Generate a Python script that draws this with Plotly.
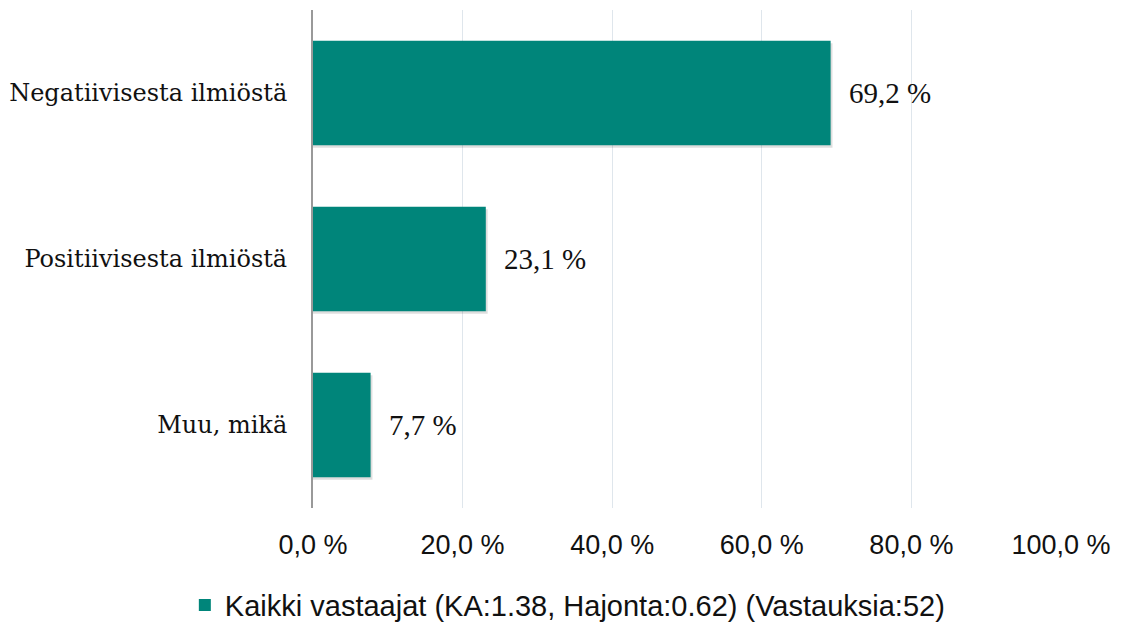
import plotly.graph_objects as go

categories = ["Negatiivisesta ilmiöstä", "Positiivisesta ilmiöstä", "Muu, mikä"]
values = [69.2, 23.1, 7.7]
series_name = "Kaikki vastaajat (KA:1.38, Hajonta:0.62) (Vastauksia:52)"
tick_vals = [0, 20, 40, 60, 80, 100]
tick_text = ["0,0 %", "20,0 %", "40,0 %", "60,0 %", "80,0 %", "100,0 %"]

teal = "#00857a"
serif = "DejaVu Serif"
sans = "Liberation Sans"

fig = go.Figure()

# soft drop shadow under the bars
fig.add_trace(go.Bar(
    x=[v + 0.25 for v in values], y=categories, orientation="h",
    width=0.63, offset=-0.33,
    marker=dict(color="rgba(0,0,0,0.13)", line=dict(width=0)),
    showlegend=False, hoverinfo="skip",
))

fig.add_trace(go.Bar(
    x=values, y=categories, orientation="h",
    width=0.63, offset=-0.315,
    name=series_name,
    marker=dict(color=teal, line=dict(width=0)),
))

for c, v in zip(categories, values):
    fig.add_annotation(
        x=v, y=c, text=f"{v:.1f}".replace(".", ",") + " %",
        showarrow=False, xanchor="left", xshift=16,
        font=dict(family="Liberation Serif", size=29, color="#111"),
    )

# page body has an 8px margin, so the figure is sized 8px smaller
fig.update_layout(
    width=1113, height=615,
    margin=dict(l=305, r=60, t=2, b=115),
    plot_bgcolor="white", paper_bgcolor="white",
    barmode="overlay",
    showlegend=True,
    legend=dict(
        orientation="h", xref="container", yref="container",
        x=0.503, xanchor="center", y=0.029, yanchor="middle",
        font=dict(family=sans, size=29, color="#111"),
        itemwidth=30,
    ),
    xaxis=dict(
        range=[0, 100], tickvals=tick_vals, ticktext=tick_text,
        showgrid=True, gridcolor="#dfe6ec", gridwidth=1,
        zeroline=False, showline=False, ticks="",
        tickfont=dict(family=sans, size=27, color="#111"),
        ticklabelstandoff=18, automargin=False,
    ),
    yaxis=dict(
        categoryorder="array", categoryarray=categories[::-1],
        showline=True, linecolor="#999999", linewidth=2,
        showgrid=False, ticks="",
        tickfont=dict(family=serif, size=24, color="#111"),
        ticklabelstandoff=19, automargin=False,
    ),
)

fig.write_html("out.html")
